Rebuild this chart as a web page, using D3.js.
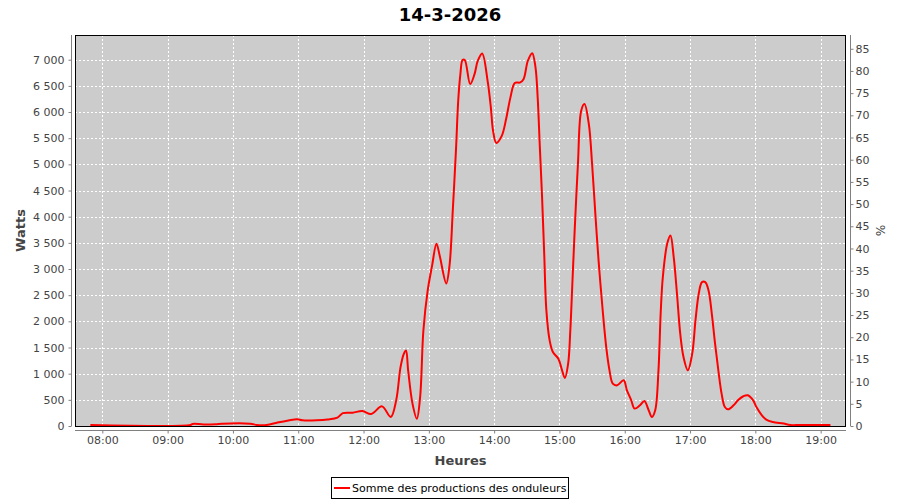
<!DOCTYPE html>
<html>
<head>
<meta charset="utf-8">
<script src="https://cdn.jsdelivr.net/npm/d3@7"></script>
<style>
  html, body { margin: 0; padding: 0; background: #fff; }
  svg { display: block; }
  text { font-family: "DejaVu Sans", sans-serif; }
</style>
</head>
<body>
<svg id="chart" width="900" height="500"></svg>
<script>
// ---- Data ----
const title = "14-3-2026";
const seriesName = "Somme des productions des onduleurs";
const times = ["07:49","09:21","09:23","09:33","09:44","09:50","10:16","10:22","10:31","10:41","10:51","10:59","11:04","11:17","11:27","11:36","11:41","11:50","11:59","12:07","12:17","12:25","12:30","12:34","12:37","12:39","12:41","12:45","12:49","12:52","12:55","12:59","13:03","13:07","13:10","13:16","13:19","13:22","13:25","13:27","13:29","13:31","13:33","13:38","13:42","13:45","13:49","13:54","13:57","13:59","14:02","14:07","14:11","14:15","14:19","14:24","14:27","14:31","14:35","14:38","14:40","14:42","14:44","14:46","14:48","14:51","14:54","14:59","15:02","15:05","15:08","15:10","15:12","15:14","15:17","15:20","15:23","15:27","15:30","15:33","15:36","15:40","15:43","15:46","15:49","15:53","15:59","16:02","16:06","16:09","16:14","16:18","16:22","16:25","16:28","16:31","16:33","16:35","16:39","16:42","16:45","16:48","16:51","16:54","16:58","17:02","17:05","17:08","17:11","17:14","17:17","17:20","17:23","17:26","17:29","17:32","17:35","17:40","17:44","17:49","17:53","17:58","18:01","18:06","18:10","18:16","18:26","18:32","18:41","19:09"];
const watts = [0,0,40,30,35,45,45,10,10,65,105,130,110,110,125,160,245,255,285,230,375,172,490,1125,1380,1445,1062,427,140,553,1825,2595,3065,3485,3255,2725,3065,4115,5300,6215,6725,6995,6995,6535,6725,6980,7120,6595,6085,5645,5410,5545,5865,6280,6555,6565,6625,6980,7125,6855,6280,5330,4400,3300,2210,1636,1413,1287,1095,917,1191,1827,2781,3735,5008,6025,6153,5772,5008,4054,3150,2150,1508,1064,810,777,873,682,491,333,395,478,300,173,300,1064,2145,2845,3481,3640,3226,2527,1764,1318,1064,1382,2018,2527,2749,2749,2590,2145,1573,1064,619,363,319,395,491,568,587,491,363,205,123,77,47,14,0,0];
const xTickLabels = ["08:00","09:00","10:00","11:00","12:00","13:00","14:00","15:00","16:00","17:00","18:00","19:00"];
const yTicksW = [0,500,1000,1500,2000,2500,3000,3500,4000,4500,5000,5500,6000,6500,7000];
const yTicksPct = [0,5,10,15,20,25,30,35,40,45,50,55,60,65,70,75,80,85];

// ---- Layout ----
const plot = { left: 75, right: 846, top: 35, bottom: 426 };
const toMin = s => { const [h, m] = s.split(":").map(Number); return h * 60 + m; };

const svg = d3.select("#chart");
const x = d3.scaleLinear().domain([454.9, 1163.3]).range([plot.left, plot.right]);
const y = d3.scaleLinear().domain([0, 7472]).range([plot.bottom, plot.top]);
const yR = d3.scaleLinear().domain([0, 88.1]).range([plot.bottom, plot.top]);

// Title
svg.append("text").attr("x", 450).attr("y", 21).attr("text-anchor", "middle")
  .style("font-size", "18px").style("font-weight", "bold").attr("fill", "#000").text(title);

// Plot background
svg.append("rect").attr("x", plot.left).attr("y", plot.top)
  .attr("width", plot.right - plot.left).attr("height", plot.bottom - plot.top)
  .attr("fill", "#cccccc");

// Gridlines
const grid = svg.append("g").attr("stroke", "#fff").attr("stroke-width", 1).attr("stroke-dasharray", "2,2");
xTickLabels.forEach(l => {
  const px = Math.round(x(toMin(l))) + 0.5;
  grid.append("line").attr("x1", px).attr("x2", px).attr("y1", plot.top).attr("y2", plot.bottom);
});
yTicksW.slice(1).forEach(v => {
  const py = Math.round(y(v)) + 0.5;
  grid.append("line").attr("x1", plot.left).attr("x2", plot.right).attr("y1", py).attr("y2", py);
});

// Series line
const data = times.map((t, i) => ({ t: toMin(t), v: watts[i] }));
const line = d3.line().x(d => x(d.t)).y(d => Math.min(y(d.v), plot.bottom - 1)).curve(d3.curveCatmullRom.alpha(0.5));
svg.append("path").datum(data).attr("d", line)
  .attr("fill", "none").attr("stroke", "#ff0000").attr("stroke-width", 2);

// Plot border
svg.append("rect").attr("x", plot.left + 0.5).attr("y", plot.top + 0.5)
  .attr("width", plot.right - plot.left - 1).attr("height", plot.bottom - plot.top)
  .attr("fill", "none").attr("stroke", "#000").attr("stroke-width", 1);

const fmtW = v => d3.format(",")(v).replace(/,/g, " ");

// Left axis
const axL = d3.axisLeft(y).tickValues(yTicksW).tickFormat(fmtW).tickSizeInner(3).tickSizeOuter(0).tickPadding(4);
const gL = svg.append("g").attr("transform", "translate(71.5,0)").call(axL);
// Right axis
const axR = d3.axisRight(yR).tickValues(yTicksPct).tickSizeInner(3).tickSizeOuter(0).tickPadding(2);
const gR = svg.append("g").attr("transform", "translate(850.5,0)").call(axR);
// Bottom axis
const axB = d3.axisBottom(x).tickValues(xTickLabels.map(toMin))
  .tickFormat((d, i) => xTickLabels[i]).tickSizeInner(3).tickSizeOuter(0).tickPadding(3);
const gB = svg.append("g").attr("transform", "translate(0,430.5)").call(axB);

[gL, gR, gB].forEach(g => {
  g.select(".domain").attr("stroke", "#808080");
  g.selectAll(".tick line").attr("stroke", "#808080");
  g.selectAll(".tick text").attr("fill", "#444").style("font-size", "11px")
    .style("font-family", "'DejaVu Sans', sans-serif");
});
gL.select(".domain").attr("d", `M0,${plot.top}V${plot.bottom}`);
gR.select(".domain").attr("d", `M0,${plot.top}V${plot.bottom}`);
gB.select(".domain").attr("d", `M${plot.left},0H${plot.right}`);

// Axis labels
svg.append("text").attr("transform", "translate(25,230.5) rotate(-90)").attr("text-anchor", "middle")
  .style("font-size", "13px").style("font-weight", "bold").attr("fill", "#444").text("Watts");
svg.append("text").attr("transform", "translate(876,230.5) rotate(90)").attr("text-anchor", "middle")
  .style("font-size", "12px").attr("fill", "#444").text("%");
svg.append("text").attr("x", 460.5).attr("y", 465).attr("text-anchor", "middle")
  .style("font-size", "13px").style("font-weight", "bold").attr("fill", "#444").text("Heures");

// Legend
const lg = svg.append("g");
lg.append("rect").attr("x", 331.5).attr("y", 477.5).attr("width", 237).attr("height", 21)
  .attr("fill", "#fff").attr("stroke", "#000");
lg.append("line").attr("x1", 334).attr("x2", 350).attr("y1", 488).attr("y2", 488)
  .attr("stroke", "#ff0000").attr("stroke-width", 2);
lg.append("text").attr("x", 352).attr("y", 492).style("font-size", "11px").attr("fill", "#000").text(seriesName);
</script>
</body>
</html>
